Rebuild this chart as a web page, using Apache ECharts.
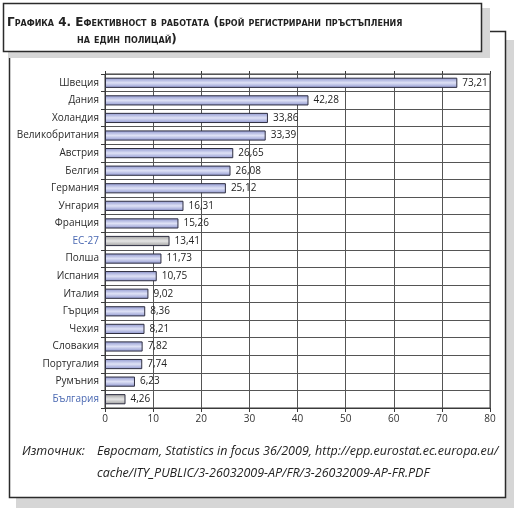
<!DOCTYPE html>
<html>
<head>
<meta charset="utf-8">
<script src="https://cdn.jsdelivr.net/npm/echarts@6/dist/echarts.min.js"></script>
<style>
html,body{margin:0;padding:0;background:#fff;}
#chart{width:520px;height:514px;}
</style>
</head>
<body>
<div id="chart"></div>
<script>
const categories = ['Швеция','Дания','Холандия','Великобритания','Австрия','Белгия','Германия','Унгария','Франция','ЕС-27','Полша','Испания','Италия','Гърция','Чехия','Словакия','Португалия','Румъния','България'];
const values = [73.21,42.28,33.86,33.39,26.65,26.08,25.12,16.31,15.26,13.41,11.73,10.75,9.02,8.36,8.21,7.82,7.74,6.23,4.26];
const highlighted = ['ЕС-27','България'];
const xMin = 0, xMax = 80, xInterval = 10;
const titleLine1 = 'Графика 4. Ефективност в работата (брой регистрирани пръстъпления';
const titleLine2 = 'на един полицай)';
const sourceLabel = 'Източник:';
const sourceLine1 = 'Евростат, Statistics in focus 36/2009, http://epp.eurostat.ec.europa.eu/';
const sourceLine2 = 'cache/ITY_PUBLIC/3-26032009-AP/FR/3-26032009-AP-FR.PDF';

const FONT = '"Open Sans", "Noto Sans", sans-serif';
const TITLE_FONT = '"DejaVu Sans", "Open Sans", sans-serif';
const blueFill = new echarts.graphic.LinearGradient(0,0,0,1,[
  {offset:0,color:'#8d95cf'},{offset:0.5,color:'#dfe2f6'},{offset:1,color:'#8d95cf'}]);
const greyFill = new echarts.graphic.LinearGradient(0,0,0,1,[
  {offset:0,color:'#9e9e9e'},{offset:0.5,color:'#e6e6e6'},{offset:1,color:'#9e9e9e'}]);

const chart = echarts.init(document.getElementById('chart'), null, {renderer:'canvas'});
chart.setOption({
  animation:false,
  backgroundColor:'#fff',
  textStyle:{fontFamily:FONT},
  graphic:[
    {type:'rect', z:-10, shape:{x:16,y:40,width:498,height:468}, style:{fill:'#d6d6d6'}},
    {type:'rect', z:-9, shape:{x:9.5,y:31.5,width:496,height:466}, style:{fill:'#fff',stroke:'#2b2b2b',lineWidth:1.5}},
    {type:'rect', z:-8, shape:{x:8,y:8,width:482,height:50}, style:{fill:'#d6d6d6'}},
    {type:'rect', z:-7, shape:{x:3.5,y:3.5,width:478,height:48}, style:{fill:'#fff',stroke:'#2b2b2b',lineWidth:1.5}},
    {type:'text', z:10, left:7, top:17, style:{text:titleLine1, font:'small-caps bold 12px ' + TITLE_FONT, fill:'#222'}},
    {type:'text', z:10, left:77, top:34, style:{text:titleLine2, font:'small-caps bold 12px ' + TITLE_FONT, fill:'#222'}},
    {type:'text', z:10, left:22, top:445, style:{text:sourceLabel, font:'italic 12.5px ' + FONT, fill:'#222'}},
    {type:'text', z:10, left:97, top:445, style:{text:sourceLine1, font:'italic 12.5px ' + FONT, fill:'#222'}},
    {type:'text', z:10, left:97, top:467, style:{text:sourceLine2, font:'italic 12.5px ' + FONT, fill:'#222'}}
  ],
  grid:{left:105,right:30,top:74,bottom:106,show:true,borderColor:'#3a3a3a',borderWidth:1,backgroundColor:'transparent'},
  xAxis:[{
    type:'value', min:xMin, max:xMax, interval:xInterval, position:'bottom',
    axisLine:{show:true,lineStyle:{color:'#3a3a3a'}},
    axisTick:{show:true,length:4,lineStyle:{color:'#3a3a3a'}},
    axisLabel:{color:'#333',fontSize:10,margin:6,fontFamily:FONT},
    splitLine:{show:true,lineStyle:{color:'#555',width:1}}
  },{
    type:'value', min:xMin, max:xMax, interval:xInterval, position:'top',
    axisLine:{show:false},
    axisTick:{show:true,length:3,lineStyle:{color:'#3a3a3a'}},
    axisLabel:{show:false},
    splitLine:{show:false}
  }],
  yAxis:{
    type:'category', inverse:true,
    data:categories.map(c=>({value:c,textStyle:{color:highlighted.includes(c)?'#4a68b2':'#2a2a2a'}})),
    axisLine:{show:true,lineStyle:{color:'#3a3a3a'}},
    axisTick:{show:true,length:4,lineStyle:{color:'#3a3a3a'}},
    axisLabel:{fontSize:10,margin:6,fontFamily:FONT},
    splitLine:{show:true,lineStyle:{color:'#555',width:1}}
  },
  series:[{
    type:'bar', xAxisIndex:0, barWidth:'58%',
    data:values.map((v,i)=>({value:v,itemStyle:{color:highlighted.includes(categories[i])?greyFill:blueFill,borderColor:'#2e2e40',borderWidth:1}})),
    label:{show:true,position:'right',distance:5,color:'#222',fontSize:10,fontFamily:FONT,
      formatter:p=>p.value.toFixed(2).replace('.',',')}
  }]
});
</script>
</body>
</html>
